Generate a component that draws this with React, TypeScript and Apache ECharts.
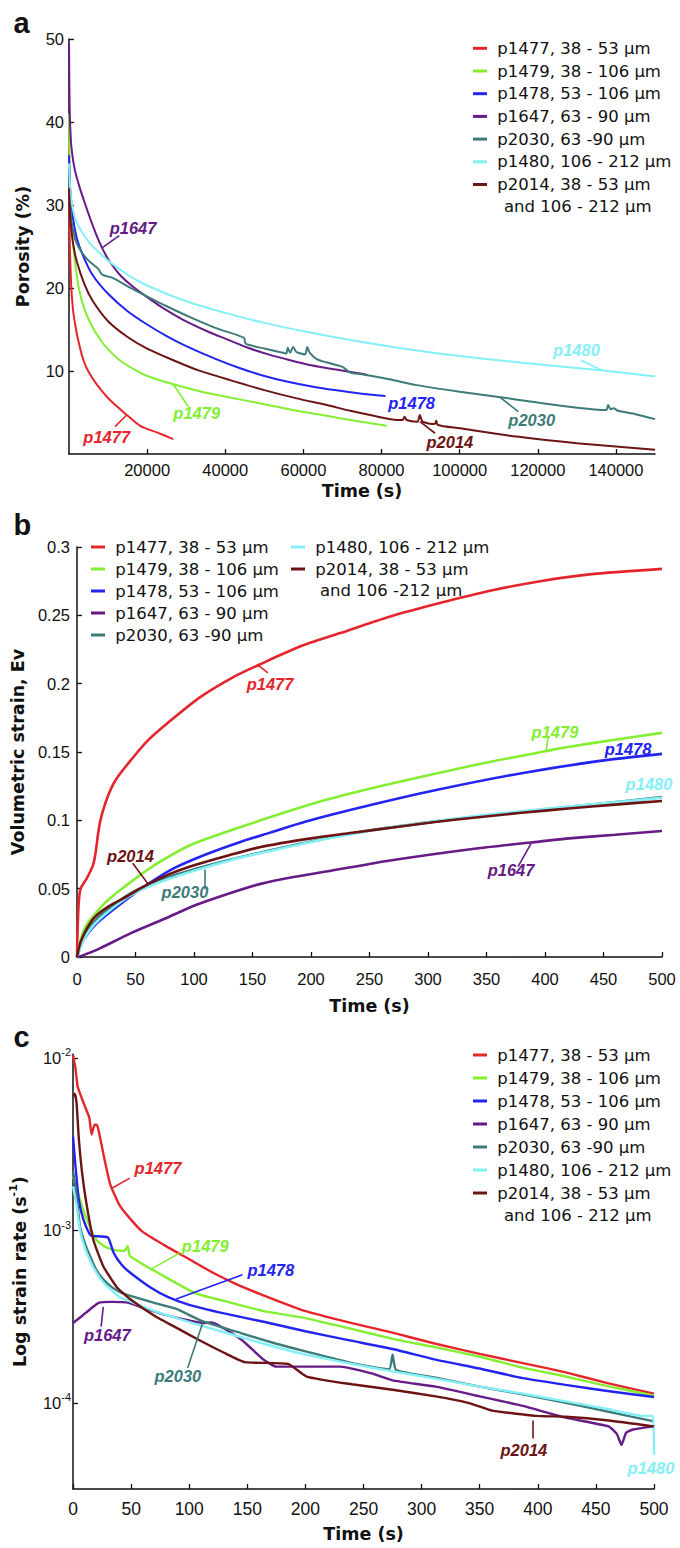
import { useEffect, useRef } from 'react';
import * as echarts from 'echarts';

type Pt = [number, number];
type Note = { s: number; text: string; at: Pt; leader?: [Pt, Pt] };

const TICK_FONT = '"Liberation Sans", Arial, sans-serif';
const TEXT_FONT = '"DejaVu Sans", sans-serif';

const SAMPLE_NAMES = [
  'p1477, 38 - 53 μm',
  'p1479, 38 - 106 μm',
  'p1478, 53 - 106 μm',
  'p1647, 63 - 90 μm',
  'p2030, 63 -90 μm',
  'p1480, 106 - 212 μm',
  'p2014, 38 - 53 μm',
];
const SAMPLE_COLORS = ['#e4262c', '#84ee33', '#2424f0', '#661b86', '#3d7b79', '#84f0f6', '#6c1414'];

// ---------- Panel a : porosity (%) vs time (s)
const porosityP1477: Pt[] = [[0, 38], [150, 27], [500, 21], [1000, 17.5], [1800, 15], [2700, 13], [3700, 11.3], [5000, 9.9], [7100, 8.4], [10500, 6.5], [14800, 4.7], [18200, 3.4], [22500, 2.6], [26700, 1.8]];
const porosityP1479: Pt[] = [[0, 41], [200, 33], [600, 28], [1200, 24.5], [2500, 20], [4000, 17.4], [6000, 15.3], [8000, 13.8], [10000, 12.6], [13000, 11.3], [17000, 10.1], [20000, 9.4], [26700, 8.4], [34000, 7.5], [41200, 6.8], [50000, 6.0], [58300, 5.2], [66000, 4.6], [72000, 4.1], [76000, 3.8], [81300, 3.4]];
const porosityP1478: Pt[] = [[0, 36], [300, 32], [1000, 28.5], [2000, 26], [3500, 24], [6000, 21.6], [10000, 19.3], [15000, 17.2], [20000, 15.6], [25000, 14.2], [30000, 13], [37800, 11.4], [44000, 10.3], [50000, 9.4], [56000, 8.7], [62500, 8.1], [68000, 7.7], [74500, 7.3], [81000, 7.0]];
const porosityP1647: Pt[] = [[0, 49.5], [150, 42], [400, 38.5], [700, 36.6], [1500, 34.2], [2800, 32], [4000, 30.3], [5400, 28.4], [7000, 26.4], [8400, 24.9], [10000, 23.5], [13000, 21.6], [16000, 20.3], [19100, 19.2], [24000, 17.6], [29100, 16.2], [35800, 14.7], [40000, 13.9], [45800, 12.8], [51000, 12], [56600, 11.3], [62000, 10.7], [68000, 10.2], [74500, 9.7], [76500, 9.5]];
const porosityP2030: Pt[] = [[0, 34], [400, 29], [1500, 26], [3000, 24.5], [5000, 23.3], [7500, 22.3], [8500, 21.6], [11300, 21.2], [15000, 20.2], [19100, 19.2], [25000, 17.8], [31400, 16.4], [38000, 15.1], [44800, 14.0], [45200, 13.3], [50000, 12.7], [54800, 12.2], [55600, 12.1], [56000, 12.8], [56600, 12.2], [57400, 12.9], [58200, 12.3], [60400, 12.0], [61000, 12.9], [61600, 12.2], [63500, 11.4], [67000, 10.9], [70000, 10.5], [72000, 9.8], [75000, 9.6], [82000, 9.0], [89000, 8.3], [100000, 7.5], [109500, 6.9], [120000, 6.2], [128000, 5.7], [137500, 5.3], [138000, 5.9], [138600, 5.4], [139500, 5.5], [140500, 5.2], [145000, 4.8], [150000, 4.2]];
const porosityP1480: Pt[] = [[0, 35], [500, 31], [1500, 28.5], [3000, 27], [5000, 25.6], [7000, 24.6], [10000, 23.3], [15000, 21.6], [20000, 20.3], [30000, 18.4], [40000, 17.0], [50000, 15.8], [60000, 14.8], [75000, 13.5], [90000, 12.4], [100000, 11.8], [116000, 11.0], [136000, 10.1], [150000, 9.35]];
const porosityP2014: Pt[] = [[0, 32], [300, 28.5], [1000, 25.5], [2000, 23.2], [4000, 20.4], [6000, 18.5], [10000, 16], [15000, 14.1], [20000, 12.7], [26700, 11.3], [33000, 10.1], [41200, 8.9], [50000, 7.7], [58300, 6.7], [66000, 5.9], [72000, 5.2], [78000, 4.6], [84000, 4.1], [85400, 4.1], [85900, 4.5], [86400, 4.1], [89200, 3.9], [89800, 4.7], [90500, 3.9], [93600, 3.6], [94000, 4.0], [94400, 3.5], [100000, 3.1], [114600, 2.1], [130000, 1.3], [150000, 0.5]];

// ---------- Panel b : volumetric strain vs time (s)
const strainP1477: Pt[] = [[0, 0], [0.5, 0.02], [1.5, 0.04], [3, 0.05], [5, 0.053], [8, 0.057], [11, 0.062], [14, 0.068], [16, 0.077], [18, 0.09], [20, 0.1], [24, 0.112], [29, 0.123], [35, 0.132], [46, 0.144], [60, 0.158], [80, 0.173], [105, 0.19], [134, 0.205], [156, 0.214], [190, 0.227], [225, 0.237], [267, 0.249], [310, 0.259], [353, 0.268], [396, 0.275], [438, 0.28], [500, 0.284]];
const strainP1479: Pt[] = [[0, 0], [3, 0.012], [6, 0.02], [10, 0.026], [15, 0.031], [20, 0.036], [27, 0.042], [40, 0.051], [64, 0.066], [100, 0.083], [157, 0.1], [213, 0.115], [269, 0.127], [343, 0.141], [400, 0.1505], [418, 0.1535], [460, 0.159], [500, 0.164]];
const strainP1478: Pt[] = [[0, 0], [3, 0.008], [6, 0.013], [10, 0.018], [15, 0.023], [20, 0.027], [30, 0.034], [42, 0.042], [60, 0.053], [83, 0.065], [110, 0.075], [139, 0.084], [165, 0.091], [195, 0.099], [250, 0.111], [306, 0.122], [380, 0.1345], [447, 0.1435], [500, 0.1486]];
const strainP1647: Pt[] = [[0, 0], [5, 0.0012], [20, 0.0065], [45.7, 0.0173], [75, 0.028], [101.5, 0.038], [130, 0.0465], [157, 0.0535], [185, 0.0585], [213, 0.0625], [269, 0.0708], [343, 0.0796], [388, 0.0838], [418, 0.0866], [460, 0.0895], [500, 0.0922]];
const strainP2030: Pt[] = [[0, 0], [2, 0.006], [4, 0.011], [8, 0.018], [15, 0.026], [25, 0.034], [45.7, 0.0466], [70, 0.056], [101.5, 0.0645], [130, 0.071], [157, 0.0765], [200, 0.0845], [250, 0.0925], [300, 0.0985], [343, 0.103], [400, 0.108], [450, 0.1125], [500, 0.117]];
const strainP1480: Pt[] = [[0, 0], [2, 0.005], [4, 0.009], [8, 0.016], [15, 0.024], [25, 0.032], [45.7, 0.045], [70, 0.0545], [101.5, 0.0635], [130, 0.0705], [157, 0.076], [200, 0.0842], [250, 0.0922], [300, 0.0985], [343, 0.1033], [400, 0.1085], [450, 0.1125], [500, 0.1165]];
const strainP2014: Pt[] = [[0, 0], [2, 0.008], [4, 0.013], [8.5, 0.021], [15, 0.029], [27, 0.037], [40, 0.043], [57, 0.0515], [80, 0.061], [101.5, 0.0675], [130, 0.0745], [157, 0.0805], [200, 0.0868], [232, 0.0905], [270, 0.0948], [306, 0.0988], [343, 0.1023], [380, 0.1055], [420, 0.1087], [460, 0.1115], [500, 0.1142]];

// ---------- Panel c : strain rate (1/s, log) vs time (s)
const rateP1477: Pt[] = [[0, 0.0104], [2, 0.0088], [4, 0.0068], [9, 0.0055], [14, 0.0045], [16, 0.0036], [18.5, 0.0041], [20.5, 0.0041], [22, 0.0038], [26, 0.0028], [32, 0.00185], [40, 0.0014], [50, 0.00115], [60, 0.00098], [80, 0.00081], [100, 0.00068], [120, 0.00057], [140, 0.00049], [160, 0.00043], [200, 0.00034], [240, 0.00029], [275, 0.000255], [312, 0.00022], [350, 0.000192], [387, 0.00017], [424, 0.00015], [460, 0.00013], [500, 0.000113]];
const rateP1479: Pt[] = [[0, 0.00205], [6, 0.0015], [12, 0.00115], [20, 0.00088], [28, 0.0008], [35, 0.00077], [44, 0.00076], [47, 0.00081], [49, 0.00071], [63, 0.00062], [83, 0.00052], [106, 0.00043], [130, 0.00039], [164, 0.00034], [200, 0.00031], [238, 0.00027], [275, 0.000235], [312, 0.00021], [350, 0.000185], [387, 0.00016], [424, 0.000142], [460, 0.000125], [500, 0.00011]];
const rateP1478: Pt[] = [[0, 0.0035], [2, 0.0024], [5, 0.0015], [9, 0.00115], [14, 0.00096], [16, 0.00093], [30, 0.00091], [35, 0.00074], [42, 0.00063], [49, 0.00057], [66, 0.00047], [82, 0.00041], [100, 0.00037], [130, 0.00033], [164, 0.000295], [200, 0.00026], [238, 0.00023], [275, 0.000205], [312, 0.000178], [350, 0.000158], [387, 0.000139], [424, 0.000127], [460, 0.000117], [500, 0.000108]];
const rateP1647: Pt[] = [[0, 0.00029], [8, 0.00032], [15, 0.00035], [22, 0.00038], [33, 0.000385], [48, 0.00038], [63, 0.00035], [82, 0.00032], [100, 0.0003], [112, 0.00029], [119, 0.000292], [127, 0.000277], [145, 0.000232], [164, 0.000178], [175, 0.000162], [201, 0.000162], [230, 0.000162], [257, 0.000148], [275, 0.000135], [312, 0.000124], [350, 0.000109], [387, 0.000096], [424, 0.000082], [461, 0.000073], [468, 0.000066], [472, 0.000057], [476, 0.000067], [482, 0.00007], [500, 0.000073]];
const rateP2030: Pt[] = [[0, 0.0022], [3, 0.0016], [6, 0.00105], [10, 0.00085], [15, 0.0007], [20, 0.00059], [26, 0.00052], [33, 0.00047], [40, 0.00044], [48, 0.00042], [70, 0.00038], [89, 0.00035], [110, 0.0003], [145, 0.000253], [175, 0.00022], [201, 0.000198], [240, 0.00017], [272, 0.000156], [275, 0.00019], [278, 0.000155], [312, 0.00014], [350, 0.000124], [387, 0.000112], [424, 0.0001], [460, 0.000089], [500, 0.000078]];
const rateP1480: Pt[] = [[0, 0.0018], [3, 0.0014], [6, 0.001], [10, 0.0008], [15, 0.00066], [20, 0.00057], [26, 0.0005], [33, 0.00045], [40, 0.00041], [48, 0.00039], [70, 0.00034], [89, 0.00031], [110, 0.00028], [145, 0.00024], [175, 0.00021], [201, 0.00019], [240, 0.000168], [275, 0.000152], [312, 0.000138], [350, 0.000124], [387, 0.000113], [424, 0.000102], [460, 0.000092], [490, 0.000084], [499, 0.000084], [500, 0.00005]];
const rateP2014: Pt[] = [[0, 0.006], [1.5, 0.0062], [3, 0.0055], [5, 0.0034], [8, 0.0021], [12, 0.00137], [17.5, 0.00088], [26, 0.00062], [37.5, 0.00047], [49, 0.0004], [70, 0.00032], [90, 0.00027], [108, 0.000232], [130, 0.000195], [148, 0.000172], [185, 0.000168], [201, 0.000142], [240, 0.000128], [275, 0.000119], [312, 0.000109], [340, 0.0001], [361, 0.00009], [398, 0.000084], [424, 0.000083], [461, 0.000079], [500, 0.000073]];

// ---------- tick values
const porosityTimeTicks = [20000, 40000, 60000, 80000, 100000, 120000, 140000];
const porosityTicks = [10, 20, 30, 40, 50];
const strainRateTicks = [0.0001, 0.001, 0.01];

// ---------- curve annotations (data coordinates)
const porosityNotes: Note[] = [
  { s: 3, text: 'p1647', at: [16400, 27.2], leader: [[12880, 26.3], [8370, 24.8]] },
  { s: 1, text: 'p1479', at: [32700, 4.9], leader: [[26700, 8.4], [30550, 5.7]] },
  { s: 0, text: 'p1477', at: [9650, 2.0], leader: [[14770, 4.7], [11780, 3.3]] },
  { s: 2, text: 'p1478', at: [87700, 6.1] },
  { s: 4, text: 'p2030', at: [118450, 4.1], leader: [[110300, 6.85], [115000, 5.1]] },
  { s: 6, text: 'p2014', at: [97500, 1.5], leader: [[89850, 3.9], [93700, 2.5]] },
  { s: 5, text: 'p1480', at: [129900, 12.5], leader: [[131000, 11.3], [136600, 10.05]] },
];
const strainNotes: Note[] = [
  { s: 0, text: 'p1477', at: [165, 0.1995], leader: [[154.7, 0.2135], [163.2, 0.2079]] },
  { s: 1, text: 'p1479', at: [408.5, 0.1643], leader: [[402.6, 0.1605], [401, 0.151]] },
  { s: 2, text: 'p1478', at: [471, 0.1519] },
  { s: 5, text: 'p1480', at: [488.9, 0.1263] },
  { s: 6, text: 'p2014', at: [45.7, 0.0736], leader: [[47.6, 0.0686], [60.7, 0.0535]] },
  { s: 4, text: 'p2030', at: [92.3, 0.0472], leader: [[109, 0.064], [109, 0.0495]] },
  { s: 3, text: 'p1647', at: [371, 0.064], leader: [[377, 0.0661], [388, 0.083]] },
];
const rateNotes: Note[] = [
  { s: 0, text: 'p1477', at: [73.1, 0.00229], leader: [[33, 0.00175], [48.9, 0.00201]] },
  { s: 1, text: 'p1479', at: [113.8, 0.000807], leader: [[66, 0.00059], [91.7, 0.000738]] },
  { s: 2, text: 'p1478', at: [170.2, 0.00059], leader: [[88.8, 0.0004], [145.8, 0.000552]] },
  { s: 3, text: 'p1647', at: [29.5, 0.000248], leader: [[26, 0.00036], [24.2, 0.000277]] },
  { s: 4, text: 'p2030', at: [90.2, 0.000143], leader: [[111.6, 0.00029], [98.6, 0.000159]] },
  { s: 6, text: 'p2014', at: [388, 0.0000531], leader: [[396, 0.000079], [396, 0.000062]] },
  { s: 5, text: 'p1480', at: [497.4, 0.0000417] },
];

const porositySets = [porosityP1477, porosityP1479, porosityP1478, porosityP1647, porosityP2030, porosityP1480, porosityP2014];
const strainSets = [strainP1477, strainP1479, strainP1478, strainP1647, strainP2030, strainP1480, strainP2014];
const rateSets = [rateP1477, rateP1479, rateP1478, rateP1647, rateP2030, rateP1480, rateP2014];

function buildSeries(panel: number, sets: Pt[][], notes: Note[], width: number, smooth: number) {
  return sets.map((data, i) => {
    const color = SAMPLE_COLORS[i];
    const mine = notes.filter((n) => n.s === i);
    const leaders = mine.filter((n) => n.leader);
    return {
      type: 'line',
      name: SAMPLE_NAMES[i],
      xAxisIndex: panel,
      yAxisIndex: panel,
      data,
      showSymbol: false,
      symbol: 'none',
      smooth,
      silent: true,
      lineStyle: { color, width },
      itemStyle: { color },
      emphasis: { disabled: true },
      markLine: leaders.length
        ? {
            silent: true,
            symbol: ['none', 'none'],
            animation: false,
            label: { show: false },
            emphasis: { disabled: true },
            lineStyle: { color, width: 1.6, type: 'solid' },
            data: leaders.map((n) => [{ coord: n.leader![0] }, { coord: n.leader![1] }]),
          }
        : undefined,
      markPoint: mine.length
        ? {
            silent: true,
            animation: false,
            symbol: 'circle',
            symbolSize: 0,
            itemStyle: { color: 'transparent' },
            label: {
              show: true,
              position: 'inside',
              color,
              fontFamily: TICK_FONT,
              fontStyle: 'italic',
              fontWeight: 'bold',
              fontSize: 16.5,
            },
            data: mine.map((n) => ({ coord: n.at, name: n.text, label: { formatter: n.text } })),
          }
        : undefined,
    };
  });
}

const axisLine = { show: true, onZero: false, lineStyle: { color: '#111', width: 1.5 } };
const tickBase = { show: true, inside: true, length: 5, lineStyle: { color: '#111', width: 1.3 } };
const labelBase = { color: '#111', fontFamily: TICK_FONT, fontSize: 16.5 };
const nameBase = { color: '#111', fontFamily: TEXT_FONT, fontWeight: 'bold', fontSize: 17.5 };
const noSplit = { show: false };
const plainNumber = (v: number) => String(v);

const legendBase = {
  orient: 'vertical',
  icon: 'rect',
  itemWidth: 14,
  itemHeight: 3,
  padding: 0,
  selectedMode: false,
  formatter: (n: string) => ' ' + n,
  textStyle: { fontFamily: TEXT_FONT, fontSize: 16.5, lineHeight: 18, color: '#111' },
};

const textEl = (text: string, x: number, y: number, size: number, bold: boolean, font: string) => ({
  type: 'text',
  x,
  y,
  silent: true,
  style: {
    text,
    fontSize: size,
    fontWeight: bold ? 'bold' : 'normal',
    fontFamily: font,
    fill: '#111',
    align: 'left',
    verticalAlign: 'middle',
  },
});

const option = {
  animation: false,
  backgroundColor: '#ffffff',
  textStyle: { fontFamily: TICK_FONT },
  grid: [
    { left: 69, top: 39, width: 586, height: 415 },
    { left: 77, top: 547, width: 585, height: 410 },
    { left: 69.5, top: 1054.3, width: 584.5, height: 434.7 },
  ],
  xAxis: [
    {
      gridIndex: 0, type: 'value', min: 0, max: 150000,
      axisLine, splitLine: noSplit,
      axisTick: { ...tickBase, customValues: porosityTimeTicks },
      axisLabel: { ...labelBase, margin: 7, customValues: porosityTimeTicks, formatter: plainNumber },
      name: 'Time (s)', nameLocation: 'middle', nameGap: 28, nameTextStyle: nameBase,
    },
    {
      gridIndex: 1, type: 'value', min: 0, max: 500, interval: 50,
      axisLine, splitLine: noSplit, axisTick: tickBase,
      axisLabel: { ...labelBase, margin: 13, formatter: plainNumber },
      name: 'Time (s)', nameLocation: 'middle', nameGap: 40, nameTextStyle: nameBase,
    },
    {
      gridIndex: 2, type: 'value', min: 0, max: 500, interval: 50,
      axisLine, splitLine: noSplit, axisTick: tickBase,
      axisLabel: { ...labelBase, fontSize: 17.5, margin: 11, formatter: plainNumber },
      name: 'Time (s)', nameLocation: 'middle', nameGap: 36, nameTextStyle: nameBase,
    },
  ],
  yAxis: [
    {
      gridIndex: 0, type: 'value', min: 0, max: 50, interval: 10,
      axisLine, splitLine: noSplit,
      axisTick: { ...tickBase, customValues: porosityTicks },
      axisLabel: { ...labelBase, margin: 5, customValues: porosityTicks },
      name: 'Porosity (%)', nameLocation: 'middle', nameGap: 37, nameTextStyle: nameBase,
    },
    {
      gridIndex: 1, type: 'value', min: 0, max: 0.3, interval: 0.05,
      axisLine, splitLine: noSplit, axisTick: tickBase,
      axisLabel: { ...labelBase, margin: 7 },
      name: 'Volumetric strain, Ev', nameLocation: 'middle', nameGap: 45, nameTextStyle: nameBase,
    },
    {
      gridIndex: 2, type: 'log', logBase: 10, min: 0.000031623, max: 0.0105,
      axisLine, splitLine: noSplit,
      axisTick: { ...tickBase, customValues: strainRateTicks },
      axisLabel: {
        ...labelBase,
        margin: 2,
        lineHeight: 22,
        customValues: strainRateTicks,
        formatter: (v: number) => '10{s|' + Math.round(Math.log10(v)) + '}',
        rich: { s: { fontSize: 11, lineHeight: 11, verticalAlign: 'top', fontFamily: TICK_FONT, color: '#111' } },
      },
      name: 'Log strain rate (s{s|-1})',
      nameLocation: 'middle',
      nameGap: 37,
      nameTextStyle: {
        ...nameBase,
        lineHeight: 24,
        rich: { s: { fontSize: 11, lineHeight: 11, fontWeight: 'bold', verticalAlign: 'top', fontFamily: TEXT_FONT, color: '#111' } },
      },
    },
  ],
  legend: [
    { ...legendBase, left: 473, top: 39.3, itemGap: 4.7, data: SAMPLE_NAMES },
    { ...legendBase, left: 91, top: 538, itemGap: 4, data: SAMPLE_NAMES.slice(0, 5) },
    { ...legendBase, left: 291, top: 538, itemGap: 4, data: SAMPLE_NAMES.slice(5) },
    { ...legendBase, left: 473, top: 1046, itemGap: 5, data: SAMPLE_NAMES },
  ],
  graphic: [
    textEl('a', 13.5, 22.8, 29, true, TICK_FONT),
    textEl('b', 13.5, 524.8, 29, true, TICK_FONT),
    textEl('c', 13.5, 1036.8, 29, true, TICK_FONT),
    textEl('and 106 - 212 μm', 504, 206, 16.5, false, TEXT_FONT),
    textEl('and 106 -212 μm', 320, 590, 16.5, false, TEXT_FONT),
    textEl('and 106 - 212 μm', 504, 1215.7, 16.5, false, TEXT_FONT),
  ],
  series: [
    ...buildSeries(0, porositySets, porosityNotes, 2, 0.25),
    ...buildSeries(1, strainSets, strainNotes, 2.6, 0.25),
    ...buildSeries(2, rateSets, rateNotes, 2.4, 0.15),
  ],
};

export default function App() {
  const ref = useRef<HTMLDivElement>(null);
  useEffect(() => {
    document.body.style.margin = '0';
    const chart = echarts.init(ref.current!, undefined, { renderer: 'svg', width: 680, height: 1548 });
    chart.setOption(option as any);
    return () => chart.dispose();
  }, []);
  return <div ref={ref} style={{ width: 680, height: 1548 }} />;
}
